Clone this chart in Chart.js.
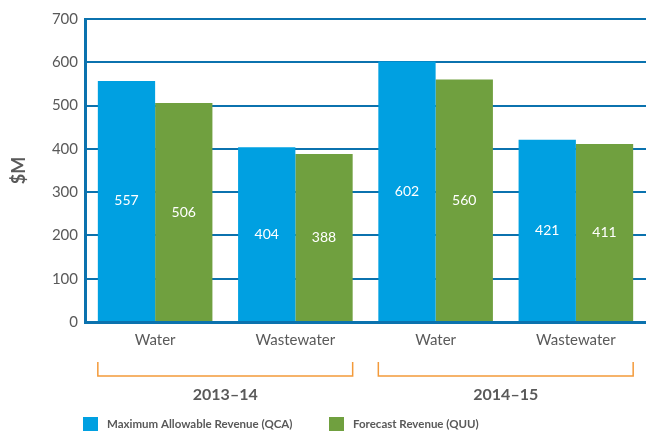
<!DOCTYPE html>
<html lang="en">
<head>
  <meta charset="UTF-8" />
  <title>Revenue: QCA vs QUU</title>
  <script src="https://cdn.jsdelivr.net/npm/chart.js"></script>
  <style>
    html, body { margin: 0; padding: 0; background: #fff; }
    #wrap { width: 646px; height: 431px; }
  </style>
</head>
<body>
  <div id="wrap"><canvas id="revenueChart"></canvas></div>

  <script>
    const categories = ['Water', 'Wastewater', 'Water', 'Wastewater'];
    const periods = ['2013–14', '2014–15'];
    const maxRevenue = [557, 404, 602, 421];
    const forecastRevenue = [506, 388, 560, 411];
    const seriesNames = ['Maximum Allowable Revenue (QCA)', 'Forecast Revenue (QUU)'];

    const FONT = 'Lato, "Open Sans", sans-serif';
    const GREY = '#595959';
    const AXIS_BLUE = '#0b72ae';
    const BLUE = '#00a0e1';
    const GREEN = '#70a03f';
    const ORANGE = '#f39a3a';

    // white values in the middle of each bar
    const valueLabels = {
      id: 'valueLabels',
      afterDatasetsDraw(chart) {
        const ctx = chart.ctx;
        ctx.save();
        ctx.fillStyle = '#fff';
        ctx.font = '14px ' + FONT;
        ctx.textAlign = 'center';
        ctx.textBaseline = 'middle';
        chart.data.datasets.forEach((ds, i) => {
          chart.getDatasetMeta(i).data.forEach((bar, j) => {
            ctx.fillText(ds.data[j], bar.x, (bar.y + bar.base) / 2);
          });
        });
        ctx.restore();
      }
    };

    // period brackets, year labels and legend under the axis
    const periodBrackets = {
      id: 'periodBrackets',
      afterDraw(chart) {
        const ctx = chart.ctx;
        const area = chart.chartArea;
        const m0 = chart.getDatasetMeta(0).data;
        const m1 = chart.getDatasetMeta(1).data;
        ctx.save();
        periods.forEach((p, i) => {
          const a = m0[i * 2], b = m1[i * 2 + 1];
          const left = a.x - a.width / 2;
          const right = b.x + b.width / 2;
          const top = area.bottom + 40, bottom = area.bottom + 54;
          ctx.strokeStyle = ORANGE;
          ctx.lineWidth = 1.5;
          ctx.beginPath();
          ctx.moveTo(left, top);
          ctx.lineTo(left, bottom);
          ctx.lineTo(right, bottom);
          ctx.lineTo(right, top);
          ctx.stroke();
          ctx.fillStyle = GREY;
          ctx.font = 'bold 16px ' + FONT;
          ctx.textAlign = 'center';
          ctx.textBaseline = 'middle';
          ctx.fillText(p, (left + right) / 2, area.bottom + 73);
        });

        const legendX = [area.left - 2, 329];
        const colors = [BLUE, GREEN];
        ctx.font = 'bold 11.5px ' + FONT;
        ctx.textAlign = 'left';
        ctx.textBaseline = 'middle';
        seriesNames.forEach((name, i) => {
          ctx.fillStyle = colors[i];
          ctx.fillRect(legendX[i], 417, 15, 14);
          ctx.fillStyle = GREY;
          ctx.fillText(name, legendX[i] + 24, 424);
        });
        ctx.restore();
      }
    };

    new Chart(document.getElementById('revenueChart'), {
      type: 'bar',
      data: {
        labels: categories,
        datasets: [
          { label: seriesNames[0], data: maxRevenue, backgroundColor: BLUE },
          { label: seriesNames[1], data: forecastRevenue, backgroundColor: GREEN }
        ]
      },
      options: {
        responsive: true,
        maintainAspectRatio: false,
        animation: false,
        layout: { padding: { top: 19, right: 0, bottom: 0, left: 0 } },
        datasets: { bar: { barPercentage: 1, categoryPercentage: 0.817 } },
        plugins: {
          legend: { display: false },
          tooltip: { enabled: false }
        },
        scales: {
          x: {
            grid: { display: false },
            border: { color: AXIS_BLUE, width: 3 },
            ticks: { color: GREY, font: { family: FONT, size: 15 }, padding: 1 },
            afterFit: s => { s.height = 109; }
          },
          y: {
            min: 0,
            max: 700,
            ticks: { stepSize: 100, color: GREY, font: { family: FONT, size: 15 }, padding: 7 },
            grid: { color: AXIS_BLUE, lineWidth: 2, drawTicks: true, tickLength: 0 },
            border: { color: AXIS_BLUE, width: 3 },
            title: {
              display: true, text: '$M', color: GREY,
              font: { family: FONT, size: 18, weight: 'bold' },
              padding: { top: 8, bottom: 4 }
            },
            afterFit: s => { s.width = 85; }
          }
        }
      },
      plugins: [valueLabels, periodBrackets]
    });
  </script>
</body>
</html>
